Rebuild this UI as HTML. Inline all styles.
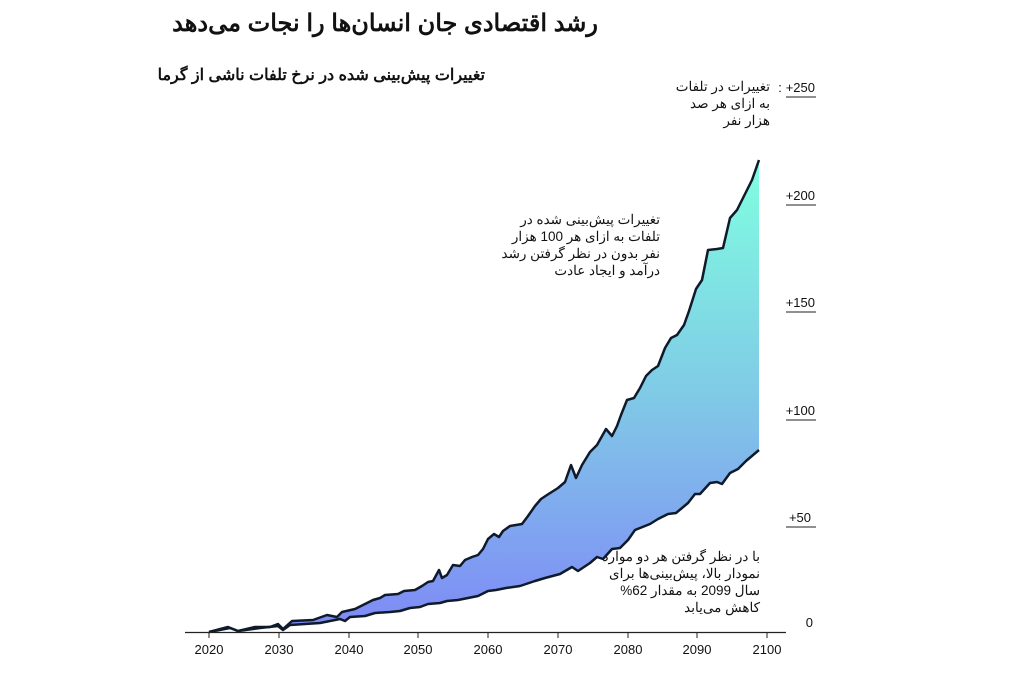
<!DOCTYPE html>
<html><head><meta charset="utf-8"><style>
body{margin:0;background:#fff;width:1024px;height:692px;overflow:hidden;font-family:"Liberation Sans","Noto Sans CJK SC",sans-serif;}
.t{position:absolute;direction:rtl;text-align:right;color:#111;}
</style></head><body>
<div class="t" style="left:150px;top:9px;width:448px;font-size:24px;font-weight:bold;">رشد اقتصادی جان انسان‌ها را نجات می‌دهد</div>
<div class="t" style="left:140px;top:65px;width:345px;font-size:16px;font-weight:bold;">تغییرات پیش‌بینی شده در نرخ تلفات ناشی از گرما</div>
<div class="t" style="left:650px;top:78px;width:120px;font-size:13.5px;line-height:17px;">تغییرات در تلفات<br>به ازای هر صد<br>هزار نفر</div>
<div class="t" style="left:490px;top:211px;width:170px;font-size:13.5px;line-height:17px;">تغییرات پیش‌بینی شده در<br>تلفات به ازای هر 100 هزار<br>نفر بدون در نظر گرفتن رشد<br>درآمد و ایجاد عادت</div>
<div class="t" style="left:580px;top:548px;width:180px;font-size:13.5px;line-height:17px;">با در نظر گرفتن هر دو موارد<br>نمودار بالا، پیش‌بینی‌ها برای<br>سال 2099 به مقدار 62%<br>کاهش می‌یابد</div>
<svg width="1024" height="692" style="position:absolute;left:0;top:0">
<defs><linearGradient id="g" gradientUnits="userSpaceOnUse" x1="0" y1="160" x2="0" y2="620">
<stop offset="0" stop-color="#80ffe0"/><stop offset="0.5" stop-color="#80cbe6"/><stop offset="1" stop-color="#7f8cf6"/></linearGradient></defs>
<path fill="url(#g)" stroke="none" d="M209,632 L228,627 238,631 255,627 270,627 278,624 283,629 292,621 313,620 327,615 337,617 342,612 355,609 365,604 373,600 380,598 385,595 398,594 404,591 415,590 422,586 428,582 433,581 439,570 442,578 447,575 453,565 460,566 465,560 472,557 478,555 483,549 488,539 494,534 499,537 503,531 510,526 522,524 528,516 535,506 541,499 547,495 558,488 565,482 571,465 576,478 582,465 590,452 597,445 606,429 612,436 617,426 621,415 627,400 634,398 640,388 646,376 652,370 658,366 665,348 671,338 677,335 684,325 689,311 696,289 702,280 708,250 717,249 723,248 730,218 737,210 746,192 752,180 759,160 L759,450 746,461 738,469 730,473 722,484 717,482 710,483 700,494 695,494 688,503 676,513 668,514 658,519 650,524 640,528 635,530 628,540 620,548 612,549 603,559 597,557 590,563 578,571 572,567 560,574 545,578 535,581 520,586 506,588 496,590 488,591 478,596 468,598 458,600 447,601 440,603 428,604 420,607 410,608 400,611 390,612 375,613 365,616 350,617 345,621 340,619 320,623 290,625 283,630 278,626 260,628 238,631 230,628 209,632Z"/>
<polyline fill="none" stroke="#0f1a2a" stroke-width="2.5" stroke-linejoin="round" points="209,632 228,627 238,631 255,627 270,627 278,624 283,629 292,621 313,620 327,615 337,617 342,612 355,609 365,604 373,600 380,598 385,595 398,594 404,591 415,590 422,586 428,582 433,581 439,570 442,578 447,575 453,565 460,566 465,560 472,557 478,555 483,549 488,539 494,534 499,537 503,531 510,526 522,524 528,516 535,506 541,499 547,495 558,488 565,482 571,465 576,478 582,465 590,452 597,445 606,429 612,436 617,426 621,415 627,400 634,398 640,388 646,376 652,370 658,366 665,348 671,338 677,335 684,325 689,311 696,289 702,280 708,250 717,249 723,248 730,218 737,210 746,192 752,180 759,160"/>
<polyline fill="none" stroke="#0f1a2a" stroke-width="2.5" stroke-linejoin="round" points="209,632 230,628 238,631 260,628 278,626 283,630 290,625 320,623 340,619 345,621 350,617 365,616 375,613 390,612 400,611 410,608 420,607 428,604 440,603 447,601 458,600 468,598 478,596 488,591 496,590 506,588 520,586 535,581 545,578 560,574 572,567 578,571 590,563 597,557 603,559 612,549 620,548 628,540 635,530 640,528 650,524 658,519 668,514 676,513 688,503 695,494 700,494 710,483 717,482 722,484 730,473 738,469 746,461 759,450"/>
<line x1="185" y1="632.5" x2="786" y2="632.5" stroke="#222" stroke-width="1.2"/>
<g stroke="#222" stroke-width="1">
<line x1="209" y1="632" x2="209" y2="638"/><line x1="279" y1="632" x2="279" y2="638"/><line x1="349" y1="632" x2="349" y2="638"/><line x1="418" y1="632" x2="418" y2="638"/><line x1="488" y1="632" x2="488" y2="638"/><line x1="558" y1="632" x2="558" y2="638"/><line x1="628" y1="632" x2="628" y2="638"/><line x1="697" y1="632" x2="697" y2="638"/><line x1="767" y1="632" x2="767" y2="638"/>
</g>
<g font-family="Liberation Sans,sans-serif" font-size="13" fill="#111" text-anchor="middle">
<text x="209" y="654">2020</text><text x="279" y="654">2030</text><text x="349" y="654">2040</text><text x="418" y="654">2050</text><text x="488" y="654">2060</text><text x="558" y="654">2070</text><text x="628" y="654">2080</text><text x="697" y="654">2090</text><text x="767" y="654">2100</text>
</g>
<g font-family="Liberation Sans,sans-serif" font-size="13" fill="#111" text-anchor="end">
<text x="815" y="92">+250</text><text x="815" y="200">+200</text><text x="815" y="307">+150</text><text x="815" y="415">+100</text><text x="811" y="522">+50</text><text x="813" y="627">0</text>
<text x="780" y="92" text-anchor="middle">:</text>
</g>
<g stroke="#222" stroke-width="1">
<line x1="786" y1="97" x2="816" y2="97"/><line x1="786" y1="205" x2="816" y2="205"/><line x1="786" y1="312" x2="816" y2="312"/><line x1="786" y1="420" x2="816" y2="420"/><line x1="786" y1="527" x2="816" y2="527"/>
</g>
</svg>
</body></html>
